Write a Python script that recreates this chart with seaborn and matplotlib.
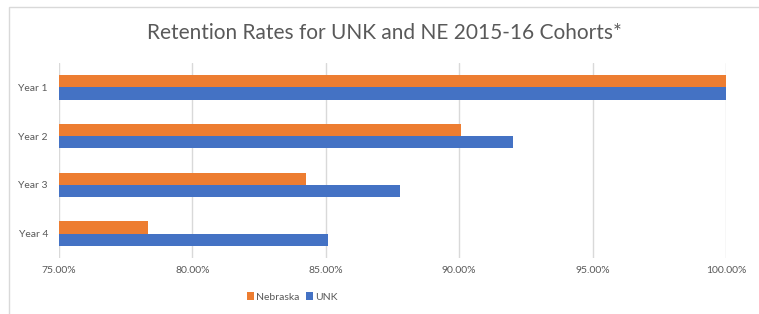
import matplotlib
matplotlib.use("Agg")
import matplotlib.pyplot as plt
import pandas as pd
import seaborn as sns
from matplotlib.ticker import PercentFormatter
from matplotlib.patches import Rectangle

years = ["Year 1", "Year 2", "Year 3", "Year 4"]
nebraska = [100.0, 90.07, 84.25, 78.32]
unk = [100.0, 92.02, 87.78, 85.07]
groups = ["Nebraska", "UNK"]
colors = ["#ED7D31", "#4472C4"]

df = pd.DataFrame({
    "year": years * 2,
    "rate": nebraska + unk,
    "group": ["Nebraska"] * 4 + ["UNK"] * 4,
})

sns.set_style("white")
plt.rcParams["font.family"] = ["Lato", "DejaVu Sans"]

fig = plt.figure(figsize=(7.59, 3.14), dpi=100)
ax = fig.add_axes([59 / 759, 1 - 258 / 314, (726 - 59) / 759, (258 - 63) / 314])

sns.barplot(data=df, y="year", x="rate", hue="group", hue_order=groups,
            palette=colors, orient="h", width=0.5, saturation=1, ax=ax,
            legend=True, edgecolor="none")

ax.set_xlim(75, 100)
ax.set_ylim(3.5, -0.5)
ax.set_xticks([75, 80, 85, 90, 95, 100])
ax.xaxis.set_major_formatter(PercentFormatter(decimals=2))
ax.grid(axis="x", color="#D9D9D9", linewidth=1)
ax.set_axisbelow(True)
for s in ax.spines.values():
    s.set_visible(False)
ax.tick_params(axis="both", length=0, labelsize=7.5, labelcolor="#595959")
ax.tick_params(axis="x", pad=6)
ax.tick_params(axis="y", pad=8)
ax.set_xlabel("")
ax.set_ylabel("")

handles, labels = ax.get_legend_handles_labels()
ax.legend_.remove()
fig.legend(handles, labels, loc="center", bbox_to_anchor=(292 / 759, 1 - 297 / 314),
           ncol=2, frameon=False, fontsize=7.5, handlelength=0.7, handleheight=0.8,
           handletextpad=0.2, columnspacing=0.6, borderpad=0.2,
           labelcolor="#595959")

fig.text(384 / 759, 1 - 33 / 314, "Retention Rates for UNK and NE 2015-16 Cohorts*",
         ha="center", va="center", fontsize=15, color="#595959")

fig.patches.append(Rectangle((9 / 759, -0.1), 1.2, 1 - 7 / 314 + 0.1,
                             transform=fig.transFigure, fill=False,
                             edgecolor="#D9D9D9", linewidth=1))

fig.savefig("out.png", dpi=100)
